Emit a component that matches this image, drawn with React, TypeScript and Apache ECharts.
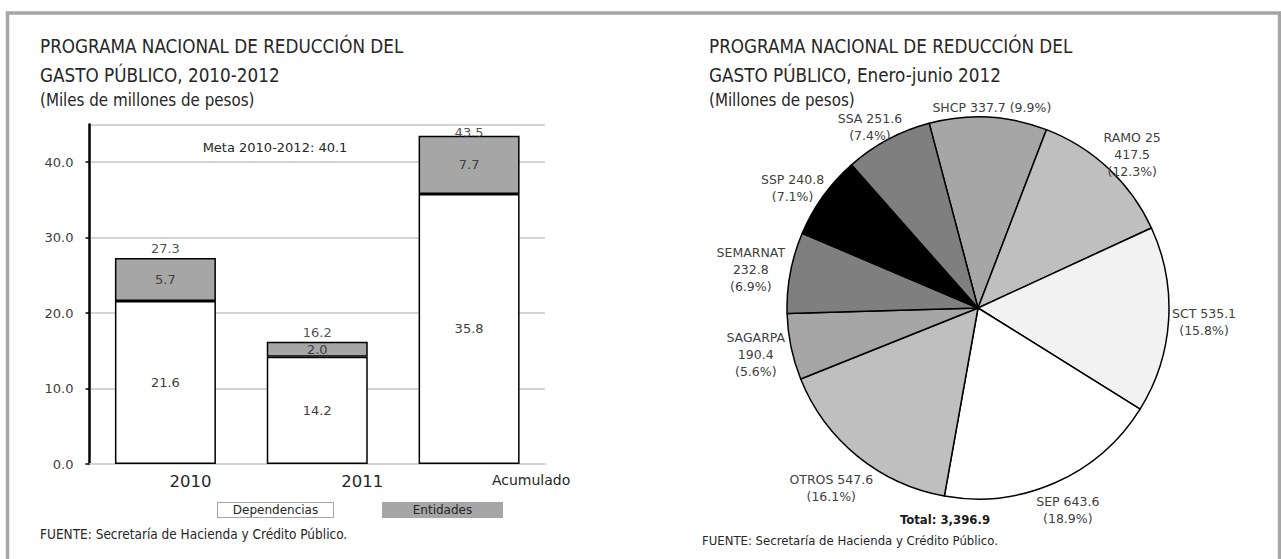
import React, { useEffect, useRef } from "react";
import * as echarts from "echarts";

// ---------- Bar chart data ----------
const barCategories = ["2010", "2011", "Acumulado"];
const dependencias = [21.6, 14.2, 35.8];
const entidades = [5.7, 2.0, 7.7];
const totales = [27.3, 16.2, 43.5];
const yMax = 45;
const yInterval = 10;
const metaText = "Meta 2010-2012: 40.1";

// ---------- Pie chart data ----------
const pieNames = ["SHCP", "RAMO 25", "SCT", "SEP", "OTROS", "SAGARPA", "SEMARNAT", "SSP", "SSA"];
const pieValues = [337.7, 417.5, 535.1, 643.6, 547.6, 190.4, 232.8, 240.8, 251.6];
const pieLabelModes = ["inline", "stack", "two", "two", "two", "stack", "stack", "two", "two"];
const pieColors = ["#a6a6a6", "#bfbfbf", "#f2f2f2", "#ffffff", "#bfbfbf", "#a6a6a6", "#7f7f7f", "#000000", "#7f7f7f"];
const pieTotalText = "Total: 3,396.9";

const leftTitle = "PROGRAMA NACIONAL DE REDUCCIÓN DEL\nGASTO PÚBLICO, 2010-2012";
const leftSub = "(Miles de millones de pesos)";
const rightTitle = "PROGRAMA NACIONAL DE REDUCCIÓN DEL\nGASTO PÚBLICO, Enero-junio 2012";
const rightSub = "(Millones de pesos)";
const fuente = "FUENTE: Secretaría de Hacienda y Crédito Público.";

// layout constants
const PIE_CX = 978;
const PIE_CY = 308;
const PIE_R = 191;
const PIE_START_OFFSET = 14.8; // degrees left of 12 o'clock
const LABEL_GAP = 6;
const LABEL_CLEAR = 3;

const COND = "'DejaVu Sans Condensed', 'DejaVu Sans', sans-serif";
const SANS = "'DejaVu Sans', sans-serif";
const TXT = "#404040";
const DARK = "#262626";

const pieSum = pieValues.reduce((a, b) => a + b, 0);

const xLabelShift = [50, 90, 124];

// distance along direction (s, c) at which a box of half sizes (w, h) clears a circle of radius target
function clearDistance(w: number, h: number, s: number, c: number, target: number) {
  let lo = 0;
  let hi = 600;
  for (let k = 0; k < 40; k++) {
    const d = (lo + hi) / 2;
    const ex = Math.max(Math.abs(s) * d - w, 0);
    const ey = Math.max(Math.abs(c) * d - h, 0);
    if (Math.sqrt(ex * ex + ey * ey) < target) lo = d;
    else hi = d;
  }
  return (lo + hi) / 2;
}

export default function App() {
  const ref = useRef<HTMLDivElement>(null);
  useEffect(() => {
    const chart = echarts.init(ref.current!, undefined, { renderer: "svg" });

    const pieData = pieNames.map((n, i) => ({
      name: n,
      value: pieValues[i],
      itemStyle: { color: pieColors[i] },
    }));

    const totalData = totales.map((v, i) =>
      i === totales.length - 1 ? { value: v, label: { offset: [0, 6] } } : v
    );

    const titleStyle = { fontFamily: COND, fontSize: 18.7, fontWeight: "normal", color: DARK, lineHeight: 29 };
    const subStyle = { fontFamily: COND, fontSize: 16.8, color: DARK, lineHeight: 20 };

    const option: any = {
      animation: false,
      backgroundColor: "#ffffff",
      title: [
        { text: leftTitle, subtext: leftSub, left: 40, top: 31.5, padding: 0, itemGap: 0, textStyle: titleStyle, subtextStyle: subStyle },
        { text: rightTitle, subtext: rightSub, left: 709, top: 31.5, padding: 0, itemGap: 0, textStyle: titleStyle, subtextStyle: subStyle },
      ],
      grid: { left: 89.5, top: 124.5, width: 455.5, height: 339.5 },
      legend: {
        left: 212,
        top: 502,
        padding: 0,
        itemWidth: 0,
        itemHeight: 0,
        itemGap: 43,
        icon: "rect",
        selectedMode: false,
        data: ["Dependencias", "Entidades"],
        formatter: (name: string) => (name === "Dependencias" ? `{d|${name}}` : `{e|${name}}`),
        textStyle: {
          fontFamily: SANS,
          fontSize: 12,
          color: DARK,
          rich: {
            d: {
              fontFamily: SANS,
              fontSize: 12,
              color: DARK,
              width: 111,
              height: 12,
              align: "center",
              backgroundColor: "#ffffff",
              borderColor: "#a6a6a6",
              borderWidth: 1,
              padding: [1, 2, 1, 2],
            },
            e: {
              fontFamily: SANS,
              fontSize: 12,
              color: DARK,
              width: 115,
              height: 12,
              align: "center",
              backgroundColor: "#a6a6a6",
              borderColor: "#a6a6a6",
              borderWidth: 1,
              padding: [1, 2, 1, 2],
            },
          },
        },
      },
      xAxis: {
        type: "category",
        data: barCategories,
        axisLine: { show: true, lineStyle: { color: "#d4d4d4", width: 2 } },
        axisTick: { show: false },
        axisLabel: {
          margin: 9,
          formatter: (v: string, i: number) => `{l${i}|${v}}`,
          rich: {
            l0: { fontFamily: SANS, fontSize: 16.5, color: DARK, padding: [0, 0, 0, xLabelShift[0]] },
            l1: { fontFamily: SANS, fontSize: 16.5, color: DARK, padding: [0, 0, 0, xLabelShift[1]] },
            l2: { fontFamily: SANS, fontSize: 14, color: DARK, padding: [0, 0, 0, xLabelShift[2]] },
          },
        },
      },
      yAxis: {
        type: "value",
        min: 0,
        max: yMax,
        interval: yInterval,
        axisLine: { show: true, lineStyle: { color: "#000000", width: 2.5 } },
        axisTick: { show: true, length: 4, lineStyle: { color: "#000", width: 1.5 } },
        axisLabel: {
          showMaxLabel: false,
          margin: 16,
          fontFamily: SANS,
          fontSize: 13,
          color: TXT,
          formatter: (v: number) => v.toFixed(1),
        },
        splitLine: { show: true, lineStyle: { color: "#d4d4d4", width: 2 } },
      },
      series: [
        {
          name: "Dependencias",
          type: "bar",
          stack: "total",
          barWidth: 101,
          data: dependencias,
          itemStyle: { color: "#ffffff", borderColor: "#000000", borderWidth: 1.5 },
          label: {
            show: true,
            position: "inside",
            fontFamily: SANS,
            fontSize: 13,
            color: TXT,
            formatter: (p: any) => Number(p.value).toFixed(1),
          },
        },
        {
          name: "Entidades",
          type: "bar",
          stack: "total",
          barWidth: 101,
          data: entidades,
          itemStyle: { color: "#a6a6a6", borderColor: "#000000", borderWidth: 1.5 },
          label: {
            show: true,
            position: "inside",
            fontFamily: SANS,
            fontSize: 13,
            color: TXT,
            formatter: (p: any) => Number(p.value).toFixed(1),
          },
        },
        {
          name: "Total",
          type: "scatter",
          data: totalData,
          symbolSize: 0,
          z: 5,
          label: {
            show: true,
            position: "top",
            distance: 3,
            fontFamily: SANS,
            fontSize: 13,
            color: DARK,
            formatter: (p: any) => Number(p.value).toFixed(1),
          },
        },
        {
          name: "Gasto",
          type: "pie",
          center: [PIE_CX, PIE_CY],
          radius: PIE_R,
          startAngle: 90 + PIE_START_OFFSET,
          clockwise: true,
          avoidLabelOverlap: false,
          data: pieData,
          itemStyle: { borderColor: "#000000", borderWidth: 1.5 },
          emphasis: { disabled: true },
          labelLine: { show: false },
          label: {
            show: true,
            position: "outside",
            fontFamily: SANS,
            fontSize: 12.5,
            lineHeight: 17,
            color: TXT,
            formatter: (p: any) => {
              const i = p.dataIndex;
              const v = pieValues[i].toFixed(1);
              const pct = ((pieValues[i] / pieSum) * 100).toFixed(1);
              const mode = pieLabelModes[i];
              if (mode === "inline") return `${p.name} ${v} (${pct}%)`;
              if (mode === "two") return `${p.name} ${v}\n(${pct}%)`;
              return `${p.name}\n${v}\n(${pct}%)`;
            },
          },
          labelLayout: (p: any) => {
            const i = p.dataIndex;
            const before = pieValues.slice(0, i).reduce((a, b) => a + b, 0);
            const midDeg = -PIE_START_OFFSET + ((before + pieValues[i] / 2) / pieSum) * 360;
            const mid = (midDeg * Math.PI) / 180;
            const s = Math.sin(mid);
            const c = Math.cos(mid);
            const w = p.labelRect.width / 2;
            const hh = p.labelRect.height / 2;
            let x = PIE_CX + (PIE_R + LABEL_GAP + w) * s;
            let y = PIE_CY - (PIE_R + LABEL_GAP + hh / 2) * c;
            if (c < 0) {
              const d = clearDistance(w, hh, s, c, PIE_R + LABEL_CLEAR);
              x = PIE_CX + d * s;
              y = PIE_CY - d * c;
            }
            return { x, y, align: "center", verticalAlign: "middle" };
          },
        },
      ],
      graphic: [
        {
          type: "polyline",
          shape: { points: [[7.5, 559], [7.5, 13], [1279.5, 13], [1279.5, 559]] },
          style: { stroke: "#a6a6a6", lineWidth: 3.5, fill: "none" },
          silent: true,
        },
        {
          type: "text",
          x: 275,
          y: 147,
          style: { text: metaText, fontFamily: SANS, fontSize: 13, fill: DARK, align: "center", verticalAlign: "middle" },
        },
        {
          type: "text",
          x: 945,
          y: 519,
          style: { text: pieTotalText, fontFamily: COND, fontSize: 13, fontWeight: "bold", fill: "#1a1a1a", align: "center", verticalAlign: "middle" },
        },
        {
          type: "text",
          x: 40,
          y: 534,
          style: { text: fuente, fontFamily: COND, fontSize: 13.5, fill: DARK, align: "left", verticalAlign: "middle" },
        },
        {
          type: "text",
          x: 702,
          y: 540,
          style: { text: fuente, fontFamily: COND, fontSize: 13, fill: DARK, align: "left", verticalAlign: "middle" },
        },
      ],
    };

    chart.setOption(option);
    return () => chart.dispose();
  }, []);

  return (
    <div
      ref={ref}
      style={{ position: "fixed", left: 0, top: 0, width: 1281, height: 559, background: "#fff" }}
    />
  );
}
